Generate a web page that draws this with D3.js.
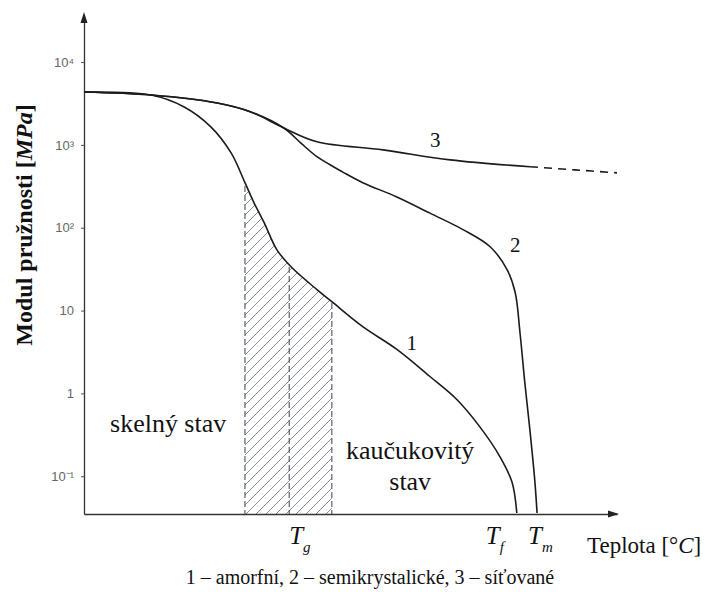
<!DOCTYPE html>
<html>
<head>
<meta charset="utf-8">
<script src="https://cdn.jsdelivr.net/npm/d3@7"></script>
<style>
    body { margin: 0; background: #fff; }
</style>
</head>
<body>
<div id="chart"></div>
<script>
// temperature has no numeric scale in the figure, T runs 0..100 in arbitrary units
// E = modul pružnosti [MPa]

// 1 - amorfní
const amorfT = [0, 12.6, 18.8, 23.8, 27.6, 30.2, 31.9, 33.8, 36.2, 38.8, 43.7, 46.5, 52.3, 58.7, 64.9, 69.9, 74.2, 78.0, 80.3, 81.2];
const amorfE = [4350, 4000, 2870, 1650, 800, 350, 200, 115, 54, 34, 17.9, 12.8, 6.4, 3.4, 1.6, 0.85, 0.40, 0.174, 0.085, 0.036];

// 2 - semikrystalické
const semiT = [0, 12.6, 25, 31.3, 37.5, 40.7, 43.7, 46.1, 48.8, 52.3, 58.7, 64.9, 71.1, 76.2, 79.4, 80.9, 81.8, 82.7, 83.7, 84.6, 85.0];
const semiE = [4350, 4000, 3200, 2500, 1600, 1050, 720, 580, 460, 350, 235, 150, 95, 59, 31, 16.5, 5.4, 1.36, 0.34, 0.085, 0.036];

// 3 - síťované (solid part, then the dashed continuation)
const sitT = [0, 12.6, 25, 31.3, 37.5, 43.7, 56.1, 68.7, 83.7];
const sitE = [4350, 4000, 3200, 2500, 1600, 1090, 870, 660, 545];
const sitTailT = [83.7, 92, 100];
const sitTailE = [545, 500, 460];

// transition temperatures
const Tg = 38.5, Tf = 81.2, Tm = 85.0;
const glassZone = [30.2, 46.5];

// y axis ticks
const yTicks = [0.1, 1, 10, 100, 1000, 10000];
const yTickLabels = ["10\u207b\u00b9", "1", "10", "10\u00b2", "10\u00b3", "10\u2074"];

// curve numbers
const curveLabels = [
    { text: "1", T: 61.5, E: 4.1 },
    { text: "2", T: 80.9, E: 62 },
    { text: "3", T: 65.9, E: 1150 }
];

const cfg = {
    width: 705,
    height: 592,
    left: 84,
    right: 617,
    top: 15,
    bottom: 514,
    line: "#1c1c1c",
    hatch: "#6a7080",
    serif: "'Liberation Serif', 'Times New Roman', Times, serif"
};

const svg = d3.select("#chart")
    .append("svg")
    .attr("width", cfg.width)
    .attr("height", cfg.height)
    .style("font-family", cfg.serif);

const x = d3.scaleLinear()
    .domain([0, 100])
    .range([cfg.left, cfg.right]);

const y = d3.scaleLog()
    .domain([0.035, 37000])
    .range([cfg.bottom, cfg.top]);

const zip = (ts, es) => ts.map((t, i) => [t, es[i]]);

const smooth = d3.curveCatmullRom.alpha(0.5);

const line = d3.line()
    .x(d => x(d[0]))
    .y(d => y(d[1]))
    .curve(smooth);

const area = d3.area()
    .x(d => x(d[0]))
    .y0(cfg.bottom)
    .y1(d => y(d[1]))
    .curve(smooth);

const amorf = zip(amorfT, amorfE);
const semi = zip(semiT, semiE);
const sit = zip(sitT, sitE);
const sitTail = zip(sitTailT, sitTailE);

/////////////////////////////////////////////////////////
////////////////// hatched Tg zone //////////////////////
/////////////////////////////////////////////////////////

const defs = svg.append("defs");

defs.append("pattern")
    .attr("id", "hatch")
    .attr("patternUnits", "userSpaceOnUse")
    .attr("width", 10)
    .attr("height", 10)
    .append("path")
    .attr("d", "M-2,2 L2,-2 M0,10 L10,0 M8,12 L12,8")
    .attr("stroke", cfg.hatch)
    .attr("stroke-width", 0.8);

defs.append("clipPath")
    .attr("id", "under1")
    .append("path")
    .attr("d", area(amorf));

const zone = svg.append("g")
    .attr("clip-path", "url(#under1)");

zone.append("rect")
    .attr("x", x(glassZone[0]))
    .attr("width", x(glassZone[1]) - x(glassZone[0]))
    .attr("y", cfg.top)
    .attr("height", cfg.bottom - cfg.top)
    .attr("fill", "url(#hatch)");

zone.selectAll(".zline")
    .data([glassZone[0], Tg, glassZone[1]])
    .enter().append("line")
    .attr("class", "zline")
    .attr("x1", d => x(d))
    .attr("x2", d => x(d))
    .attr("y1", cfg.top)
    .attr("y2", cfg.bottom)
    .attr("stroke", "#4b5160")
    .attr("stroke-width", 1.1)
    .attr("stroke-dasharray", "6,3");

/////////////////////////////////////////////////////////
///////////////////////// axes //////////////////////////
/////////////////////////////////////////////////////////

const yAxis = d3.axisLeft(y)
    .tickValues(yTicks)
    .tickFormat((d, i) => yTickLabels[i])
    .tickSize(3)
    .tickSizeOuter(0)
    .tickPadding(7);

const gy = svg.append("g")
    .attr("transform", "translate(" + cfg.left + ",0)")
    .call(yAxis);

gy.select(".domain").attr("stroke", "#333").attr("stroke-width", 1.3);
gy.selectAll(".tick line").attr("stroke", "#555");
gy.selectAll(".tick text")
    .attr("fill", "#666")
    .style("font-family", "'Liberation Sans', Arial, sans-serif")
    .style("font-size", "13px");

const xAxis = d3.axisBottom(x)
    .tickValues([])
    .tickSizeOuter(0);

const gx = svg.append("g")
    .attr("transform", "translate(0," + cfg.bottom + ")")
    .call(xAxis);

gx.select(".domain").attr("stroke", "#333").attr("stroke-width", 1.3);

// arrow heads
svg.append("path")
    .attr("d", "M" + cfg.left + "," + (cfg.top - 3) + "l-3.5,11h7z")
    .attr("fill", "#222");

svg.append("path")
    .attr("d", "M" + (cfg.right + 2) + "," + cfg.bottom + "l-11,-3.5v7z")
    .attr("fill", "#222");

/////////////////////////////////////////////////////////
//////////////////////// curves /////////////////////////
/////////////////////////////////////////////////////////

svg.selectAll(".curve")
    .data([amorf, semi, sit])
    .enter().append("path")
    .attr("class", "curve")
    .attr("d", line)
    .attr("fill", "none")
    .attr("stroke", cfg.line)
    .attr("stroke-width", 1.6);

svg.append("path")
    .attr("d", line(sitTail))
    .attr("fill", "none")
    .attr("stroke", cfg.line)
    .attr("stroke-width", 1.6)
    .attr("stroke-dasharray", "8,6");

svg.selectAll(".clabel")
    .data(curveLabels)
    .enter().append("text")
    .attr("class", "clabel")
    .attr("x", d => x(d.T))
    .attr("y", d => y(d.E))
    .attr("dy", "0.35em")
    .attr("text-anchor", "middle")
    .style("font-family", cfg.serif)
    .style("font-size", "21px")
    .attr("fill", "#111")
    .text(d => d.text);

/////////////////////////////////////////////////////////
///////////////////////// texts /////////////////////////
/////////////////////////////////////////////////////////

// region names: 22px face scaled up, keeps the serif face
svg.append("text")
    .attr("transform", "translate(" + x(4.9) + "," + y(0.34) + ") scale(1.18)")
    .style("font-family", cfg.serif)
    .style("font-size", "22px")
    .attr("fill", "#111")
    .text("skeln\u00fd stav");

const rubber = svg.append("text")
    .attr("transform", "translate(" + x(61.2) + "," + y(0.16) + ") scale(1.18)")
    .attr("text-anchor", "middle")
    .style("font-family", cfg.serif)
    .style("font-size", "22px")
    .attr("fill", "#111");
rubber.append("tspan").attr("x", 0).attr("y", 0).text("kau\u010dukovit\u00fd");
rubber.append("tspan").attr("x", 0).attr("y", 26).text("stav");

// T_g, T_f, T_m under the x axis
const tLabels = [
    { sub: "g", T: Tg, dx: 0 },
    { sub: "f", T: Tf, dx: -31 },
    { sub: "m", T: Tm, dx: -9 }
];

const tl = svg.selectAll(".tlabel")
    .data(tLabels)
    .enter().append("text")
    .attr("class", "tlabel")
    .attr("x", d => x(d.T) + d.dx)
    .attr("y", cfg.bottom + 30)
    .style("font-family", cfg.serif)
    .style("font-size", "25px")
    .style("font-style", "italic")
    .attr("fill", "#111");

tl.append("tspan").text("T");
tl.append("tspan")
    .attr("dy", 8)
    .style("font-size", "15px")
    .text(d => d.sub);

const xt = svg.append("text")
    .attr("x", 587)
    .attr("y", cfg.bottom + 39)
    .style("font-family", cfg.serif)
    .style("font-size", "23px")
    .attr("fill", "#111");
xt.append("tspan").text("Teplota [\u00b0");
xt.append("tspan").style("font-style", "italic").text("C");
xt.append("tspan").text("]");

const yt = svg.append("text")
    .attr("transform", "translate(32,225) rotate(-90)")
    .attr("text-anchor", "middle")
    .style("font-family", cfg.serif)
    .style("font-size", "24px")
    .style("font-weight", "bold")
    .attr("fill", "#111");
yt.append("tspan").text("Modul pru\u017enosti [");
yt.append("tspan").style("font-style", "italic").text("MPa");
yt.append("tspan").text("]");

svg.append("text")
    .attr("x", 370)
    .attr("y", 584)
    .attr("text-anchor", "middle")
    .style("font-family", cfg.serif)
    .style("font-size", "20px")
    .attr("fill", "#111")
    .text("1 \u2013 amorfn\u00ed, 2 \u2013 semikrystalick\u00e9, 3 \u2013 s\u00ed\u0165ovan\u00e9");
</script>
</body>
</html>
